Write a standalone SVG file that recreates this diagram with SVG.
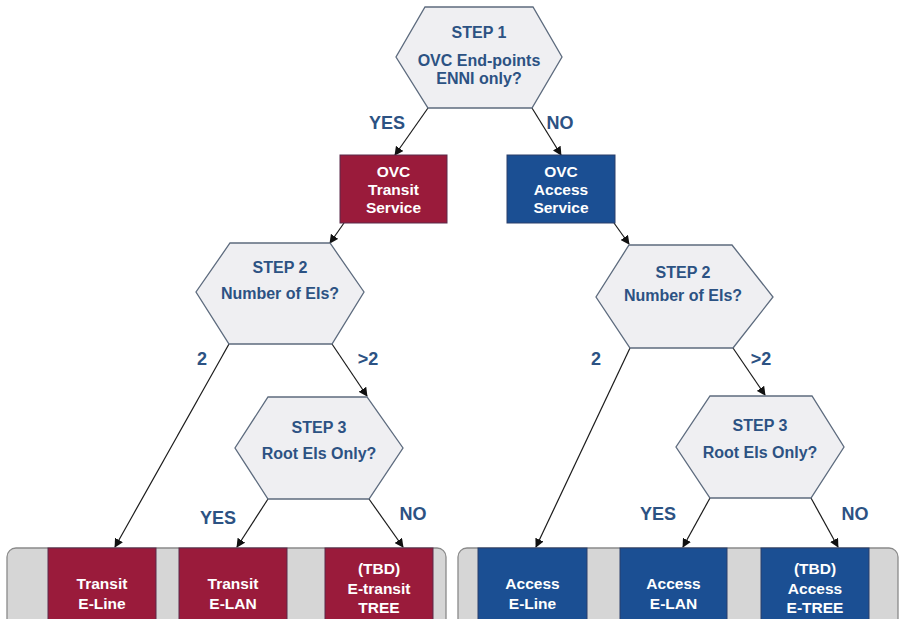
<svg xmlns="http://www.w3.org/2000/svg" width="902" height="619" viewBox="0 0 902 619">
  <style>
    .hex { fill: #efeff2; stroke: #5d6b7e; stroke-width: 1.3; }
    .qt { font-family: "Liberation Sans", Arial, sans-serif; font-weight: bold; font-size: 16px; fill: #2c5283; text-anchor: middle; }
    .lbl { font-family: "Liberation Sans", Arial, sans-serif; font-weight: bold; font-size: 18px; fill: #2c5283; text-anchor: middle; }
    .bt { font-family: "Liberation Sans", Arial, sans-serif; font-weight: bold; font-size: 15.5px; fill: #ffffff; text-anchor: middle; }
    .red { fill: #9a1b3b; stroke: #5a2a4a; stroke-width: 1; }
    .blue { fill: #1b4f93; stroke: #2a3f6a; stroke-width: 1; }
    .tray { fill: #d6d6d6; stroke: #8a8a8a; stroke-width: 1.3; }
    .conn line { stroke: #1a1a1a; stroke-width: 1.2; marker-end: url(#arrow); }
  </style>
  <defs>
    <marker id="arrow" viewBox="0 0 10 10" refX="9" refY="5" markerWidth="9" markerHeight="9" markerUnits="userSpaceOnUse" orient="auto">
      <path d="M0,0 L10,5 L0,10 Z" fill="#111"/>
    </marker>
  </defs>

  <rect width="902" height="619" fill="#ffffff"/>

  <!-- bottom trays -->
  <g id="tray-transit">
    <rect class="tray" x="7" y="548" width="439" height="80" rx="9"/>
  </g>
  <g id="tray-access">
    <rect class="tray" x="458" y="548" width="440" height="80" rx="9"/>
  </g>

  <!-- connectors -->
  <g id="connectors" class="conn">
    <line x1="428" y1="108" x2="395" y2="155"/>
    <line x1="532" y1="108" x2="561" y2="155"/>
    <line x1="344" y1="223" x2="330" y2="243"/>
    <line x1="614" y1="223" x2="629" y2="244"/>
    <line x1="229" y1="344" x2="115" y2="547"/>
    <line x1="332" y1="344" x2="367" y2="396"/>
    <line x1="268" y1="499" x2="237" y2="547"/>
    <line x1="369" y1="499" x2="403" y2="547"/>
    <line x1="630" y1="348" x2="536" y2="547"/>
    <line x1="733" y1="348" x2="765" y2="395"/>
    <line x1="710" y1="498" x2="683" y2="547"/>
    <line x1="811" y1="498" x2="838" y2="547"/>
  </g>

  <!-- branch labels -->
  <g id="labels">
    <text class="lbl" x="387" y="129">YES</text>
    <text class="lbl" x="560" y="129">NO</text>
    <text class="lbl" x="202" y="365">2</text>
    <text class="lbl" x="368" y="365">&gt;2</text>
    <text class="lbl" x="596" y="365">2</text>
    <text class="lbl" x="761" y="365">&gt;2</text>
    <text class="lbl" x="218" y="524">YES</text>
    <text class="lbl" x="413" y="520">NO</text>
    <text class="lbl" x="658" y="520">YES</text>
    <text class="lbl" x="855" y="520">NO</text>
  </g>

  <!-- decision nodes -->
  <g id="step1">
    <polygon class="hex" points="425,7 533,7 562,57 532,108 428,108 396,57"/>
    <text class="qt" x="479" y="38">STEP 1</text>
    <text class="qt" x="479" y="66">OVC End-points</text>
    <text class="qt" x="479" y="84">ENNI only?</text>
  </g>
  <g id="step2-transit">
    <polygon class="hex" points="230,243 330,243 364,292 332,344 229,344 196,292"/>
    <text class="qt" x="280" y="273">STEP 2</text>
    <text class="qt" x="280" y="299">Number of EIs?</text>
  </g>
  <g id="step3-transit">
    <polygon class="hex" points="268,397 367,397 403,448 369,499 268,499 235,448"/>
    <text class="qt" x="319" y="433">STEP 3</text>
    <text class="qt" x="319" y="459">Root EIs Only?</text>
  </g>
  <g id="step2-access">
    <polygon class="hex" points="629,245 732,245 773,297 733,348 630,348 596,297"/>
    <text class="qt" x="683" y="278">STEP 2</text>
    <text class="qt" x="683" y="301">Number of EIs?</text>
  </g>
  <g id="step3-access">
    <polygon class="hex" points="710,396 812,396 844,447 811,498 710,498 676,447"/>
    <text class="qt" x="760" y="431">STEP 3</text>
    <text class="qt" x="760" y="458">Root EIs Only?</text>
  </g>

  <!-- service nodes -->
  <g id="ovc-transit">
    <rect class="red" x="340" y="155" width="107" height="68"/>
    <text class="bt" x="393.5" y="177">OVC</text>
    <text class="bt" x="393.5" y="195">Transit</text>
    <text class="bt" x="393.5" y="213">Service</text>
  </g>
  <g id="ovc-access">
    <rect class="blue" x="507" y="155" width="108" height="68"/>
    <text class="bt" x="561" y="177">OVC</text>
    <text class="bt" x="561" y="195">Access</text>
    <text class="bt" x="561" y="213">Service</text>
  </g>

  <g id="transit-eline">
    <rect class="red" x="48" y="548" width="108" height="75"/>
    <text class="bt" x="102" y="589">Transit</text>
    <text class="bt" x="102" y="609">E-Line</text>
  </g>
  <g id="transit-elan">
    <rect class="red" x="179" y="548" width="108" height="75"/>
    <text class="bt" x="233" y="589">Transit</text>
    <text class="bt" x="233" y="609">E-LAN</text>
  </g>
  <g id="transit-etree">
    <rect class="red" x="325" y="548" width="108" height="75"/>
    <text class="bt" x="379" y="574">(TBD)</text>
    <text class="bt" x="379" y="594">E-transit</text>
    <text class="bt" x="379" y="613">TREE</text>
  </g>
  <g id="access-eline">
    <rect class="blue" x="478" y="548" width="109" height="75"/>
    <text class="bt" x="532.5" y="589">Access</text>
    <text class="bt" x="532.5" y="609">E-Line</text>
  </g>
  <g id="access-elan">
    <rect class="blue" x="620" y="548" width="107" height="75"/>
    <text class="bt" x="673.5" y="589">Access</text>
    <text class="bt" x="673.5" y="609">E-LAN</text>
  </g>
  <g id="access-etree">
    <rect class="blue" x="761" y="548" width="108" height="75"/>
    <text class="bt" x="815" y="574">(TBD)</text>
    <text class="bt" x="815" y="594">Access</text>
    <text class="bt" x="815" y="613">E-TREE</text>
  </g>
</svg>
